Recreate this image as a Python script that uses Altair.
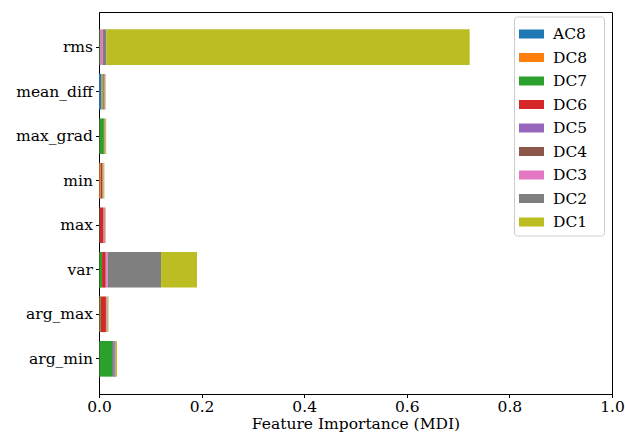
import altair as alt
import pandas as pd

# Features (top to bottom) and the components stacked within each bar
features = ["rms", "mean_diff", "max_grad", "min", "max", "var", "arg_max", "arg_min"]
components = ["AC8", "DC8", "DC7", "DC6", "DC5", "DC4", "DC3", "DC2", "DC1"]
colors = ["#1f77b4", "#ff7f0e", "#2ca02c", "#d62728", "#9467bd",
          "#8c564b", "#e377c2", "#7f7f7f", "#bcbd22"]

# Mean decrease in impurity per component, in the order of `features`
ac8 = [0.0005, 0.005, 0.001, 0.0005, 0.0005, 0.0005, 0.0005, 0.0005]
dc8 = [0.0005, 0.002, 0.0005, 0.002, 0.0005, 0.0005, 0.001, 0.0005]
dc7 = [0.001, 0.002, 0.008, 0.001, 0.0005, 0.005, 0.002, 0.026]
dc6 = [0.0005, 0.001, 0.0005, 0.003, 0.007, 0.007, 0.010, 0.0005]
dc5 = [0.0005, 0.0005, 0.0005, 0.0005, 0.0005, 0.0005, 0.0005, 0.003]
dc4 = [0.0005, 0.0005, 0.0005, 0.0005, 0.0005, 0.0005, 0.0005, 0.001]
dc3 = [0.004, 0.0005, 0.0005, 0.0005, 0.002, 0.003, 0.001, 0.0005]
dc2 = [0.007, 0.0005, 0.0005, 0.0005, 0.0005, 0.104, 0.001, 0.001]
dc1 = [0.708, 0.001, 0.002, 0.002, 0.001, 0.070, 0.002, 0.002]

series = [ac8, dc8, dc7, dc6, dc5, dc4, dc3, dc2, dc1]
rows = []
for k, (comp, vals) in enumerate(zip(components, series)):
    for feat, v in zip(features, vals):
        rows.append({"feature": feat, "component": comp, "order": k, "mdi": v})
df = pd.DataFrame(rows)

FONT = "DejaVu Serif"
FS = 15.5

chart = (
    alt.Chart(df)
    .mark_bar()
    .encode(
        x=alt.X(
            "mdi:Q",
            stack="zero",
            scale=alt.Scale(domain=[0, 1], nice=False),
            axis=alt.Axis(
                title="Feature Importance (MDI)",
                values=[0, 0.2, 0.4, 0.6, 0.8, 1.0],
                format=".1f",
                grid=False,
                labelFlush=False,
                labelPadding=2,
                titlePadding=1,
            ),
        ),
        y=alt.Y(
            "feature:N",
            sort=features,
            scale=alt.Scale(paddingInner=0.2, paddingOuter=0.39),
            axis=alt.Axis(title=None, grid=False, labelPadding=3),
        ),
        color=alt.Color(
            "component:N",
            sort=components,
            scale=alt.Scale(domain=components, range=colors),
            legend=alt.Legend(
                title=None,
                orient="none",
                legendX=415,
                legendY=4.5,
                symbolType="M-1,-0.36H1V0.36H-1Z",
                symbolSize=625,
                symbolStrokeWidth=0,
                symbolOpacity=1,
                labelFont=FONT,
                labelFontSize=FS,
                labelColor="black",
                # a blank trailing glyph widens the legend frame on the right
                labelExpr="datum.label + '\u2800'",
                rowPadding=2.5,
                padding=5,
                strokeColor="#cccccc",
                fillColor="white",
                cornerRadius=3,
                labelOffset=9,
            ),
        ),
        order=alt.Order("order:Q", sort="ascending"),
        tooltip=["feature", "component", "mdi"],
    )
    .properties(
        width=513,
        height=382,
        autosize=alt.AutoSizeParams(type="none"),
        padding={"left": 99, "top": 12, "right": 13, "bottom": 40},
    )
    .configure_view(stroke="black", strokeWidth=1)
    .configure_axis(
        labelFont=FONT,
        titleFont=FONT,
        labelFontSize=FS,
        titleFontSize=FS,
        labelColor="black",
        titleColor="black",
        titleFontWeight="normal",
        domainColor="black",
        tickColor="black",
        tickSize=3.5,
    )
)

chart.save("out.html", embed_options={"renderer": "svg", "actions": False})
